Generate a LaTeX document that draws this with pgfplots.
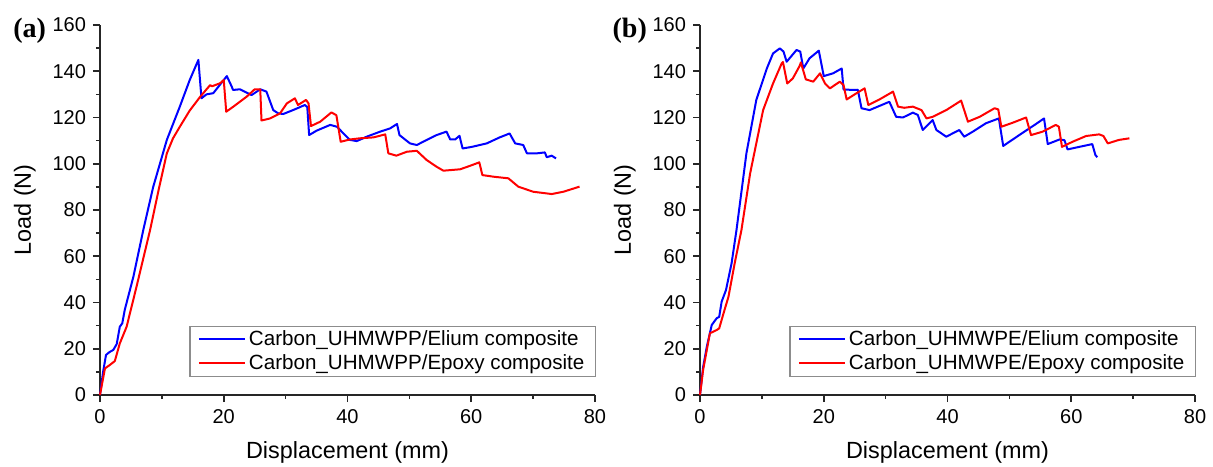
\documentclass[border=0pt]{standalone}
\usepackage{fontspec}
\setmainfont{Liberation Sans}
\newfontfamily\panelfont{Liberation Serif}
\usepackage{pgfplots}
\usepackage{pgfplotstable}
\pgfplotsset{compat=1.18}

% panel (a): carbon/UHMWPP
\pgfplotstableread{
x y
0 0
0.5 10
0.97 17.3
1.5 18.5
2.15 19.5
2.7 22
3.2 29.5
3.6 31
4.0 36.8
5.4 51.2
7.0 71.4
8.6 90
10.8 110.3
12.9 124.7
14.5 136.2
15.9 144.9
16.4 128.3
17.2 130
18.3 130.5
20.5 137.9
21.3 133.3
21.5 131.9
22.6 132.2
23.5 131
24.5 129.7
25.9 132.2
26.9 131.2
28.0 123.2
28.8 121.8
29.6 121.5
31.2 123.2
33.1 125.4
33.5 124.5
33.8 112.4
35.0 114.3
37.2 116.8
38.3 116
39.6 112.4
40.4 110.3
41.5 109.8
43.1 111.7
45.3 113.9
46.9 115.3
48.0 117.2
48.4 112.4
50.1 108.8
51.2 108.1
52.8 110.3
54.4 112.4
56.0 113.9
56.6 110.5
57.4 110.5
58.1 112.1
58.6 106.6
60.1 107.3
62.5 108.8
64.6 111.4
66.2 113.1
67.1 108.8
68.4 108.1
69.0 104.5
70.6 104.5
71.9 104.9
72.2 102.8
73.0 103.5
73.7 102.3
}\aElium

\pgfplotstableread{
x y
0 0
0.8 11.5
1.6 13
2.4 14.7
3.2 22.3
4.3 29.5
5.9 46.8
8.1 71.4
9.5 89
10.8 104.5
11.8 111
12.9 116
14.5 123
16.2 129
17.8 134
18.1 133.5
19.4 134.8
20.0 136.2
20.4 122.5
21.5 124.6
23.7 129
25.0 132.2
25.9 132.2
26.1 118.7
27.5 119.6
29.1 121.8
30.2 126.1
31.5 128.3
32.0 125.4
33.3 127.6
33.7 126.1
34.1 116.3
35.6 118.2
37.4 122.2
38.2 121
38.9 109.5
40.4 110.5
42.0 111
44.2 111.4
46.1 112.7
46.6 104.5
47.9 103.5
49.6 105.2
51.2 105.6
52.8 101.6
54.4 98.7
55.5 97
58.2 97.6
59.8 99.1
61.3 100.6
61.8 95.1
63.6 94.4
66.0 93.7
67.6 90.1
70.0 87.9
73.0 86.9
74.9 87.9
77.5 90.1
}\aEpoxy

% panel (b): carbon/UHMWPE
\pgfplotstableread{
x y
0 0
0.5 12
1.1 20.9
1.9 30.3
2.7 33.2
3.1 33.8
3.5 40.4
4.2 45.4
5.1 56.9
5.9 71.4
7.5 104.5
9.1 127.6
10.8 141.2
11.8 147.7
12.9 149.9
13.5 148.5
14.0 144.1
15.6 149.2
16.2 148.5
16.7 141.2
17.7 145.6
19.2 148.9
20.0 137.9
21.5 139.1
22.9 141.2
23.2 132.1
25.0 131.9
25.5 132
26.1 124
27.4 123.2
29.0 125
30.6 126.8
31.7 120.3
32.8 120
34.4 122.1
35.2 121.1
36.0 114.6
37.6 118.9
38.2 114.6
39.8 111.7
41.9 114.6
42.7 111.7
44.1 113.9
46.2 117.5
48.3 119.6
49.0 107.7
51.6 112.4
54.3 117.2
55.6 119.6
56.2 108.5
58.1 110.5
58.9 110.2
59.4 106.2
61.3 107.3
63.4 108.5
63.9 103.8
64.2 102.8
}\bElium

\pgfplotstableread{
x y
0 0
0.5 10.8
1.6 26.7
2.7 28.1
3.1 28.8
3.8 35.3
4.6 42.5
5.6 56.9
6.7 71.4
8.1 95.8
10.2 123.2
11.8 134.7
13.2 143.4
13.4 144
14.1 134.7
15.0 136.9
16.1 142.3
16.3 143.8
17.1 136.5
18.3 135.5
19.4 139.1
20.2 134.7
21.0 132.6
22.6 135.5
23.2 134
23.7 127.8
25.3 130.5
26.6 132.6
27.2 125.4
29.0 127.8
31.2 131.2
32.0 124.7
33.0 124.2
34.4 124.7
35.8 123.2
36.6 119.6
37.6 120.3
39.8 123.2
42.2 127.3
43.3 118.2
45.2 120.3
47.6 124
48.2 123.5
48.7 116
50.5 117.7
52.7 120
53.5 112.4
55.4 113.9
57.5 116.8
58.0 116
58.5 107.3
60.2 109.5
62.4 112
64.5 112.7
65.2 112
65.9 108.8
67.7 110.3
69.4 111
}\bEpoxy

\pgfplotsset{
  loadplot/.style={
    scale only axis, width=247.5pt, height=185pt,
    xmin=0, xmax=80, ymin=0, ymax=160,
    axis lines*=left,
    axis line style={line width=0.8pt, black!85},
    xtick={0,20,...,80}, ytick={0,20,...,160}, minor tick num=1,
    tick align=outside, major tick length=3.5pt, minor tick length=2pt,
    every tick/.style={black!85, line width=0.8pt},
    /pgf/number format/assume math mode=true,
    tick label style={font=\fontsize{10}{12}\selectfont},
    label style={font=\fontsize{11.7}{14}\selectfont},
    xlabel={Displacement (mm)}, ylabel={Load (N)},
    xlabel style={at={(axis description cs:0.5,-0.154)}, anchor=center},
    ylabel style={at={(axis description cs:-0.152,0.5)}, anchor=center},
    legend style={at={(axis description cs:1.002,0.049)}, anchor=south east,
      draw=black!45, line width=0.6pt, font=\fontsize{10.3}{12}\selectfont,
      inner xsep=4pt, inner ysep=0.5pt, row sep=0pt,
      nodes={inner ysep=1.5pt, inner xsep=1.5pt}, cells={anchor=west}},
    legend image code/.code={\draw[#1, line width=1pt] (0pt,0pt) -- (23pt,0pt);},
    every axis plot/.append style={line width=1pt, line join=round},
    clip=false,
  }
}

\begin{document}
\begin{tikzpicture}
\path[use as bounding box] (-50pt,-35.5pt) rectangle (556.5pt,197.5pt);

\begin{axis}[loadplot, at={(0pt,0pt)}, anchor=south west]
\addplot[blue, no marks] table[x=x, y=y] {\aElium};
\addlegendentry{Carbon\_UHMWPP/Elium composite}
\addplot[red, no marks] table[x=x, y=y] {\aEpoxy};
\addlegendentry{Carbon\_UHMWPP/Epoxy composite}
\node[font=\panelfont\bfseries\fontsize{14}{16}\selectfont] at (axis description cs:-0.142,0.984) {(a)};
\end{axis}

\begin{axis}[loadplot, at={(300pt,0pt)}, anchor=south west]
\addplot[blue, no marks] table[x=x, y=y] {\bElium};
\addlegendentry{Carbon\_UHMWPE/Elium composite}
\addplot[red, no marks] table[x=x, y=y] {\bEpoxy};
\addlegendentry{Carbon\_UHMWPE/Epoxy composite}
\node[font=\panelfont\bfseries\fontsize{14}{16}\selectfont] at (axis description cs:-0.142,0.984) {(b)};
\end{axis}
\end{tikzpicture}
\end{document}
